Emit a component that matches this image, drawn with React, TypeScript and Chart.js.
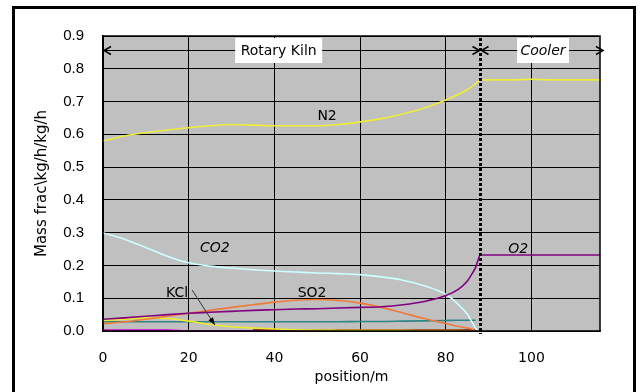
import { useEffect, useRef } from "react";
import { Chart, registerables } from "chart.js";

Chart.register(...registerables);

// positions along the kiln / cooler (m)
const positions = [0, 5, 10, 15, 20, 25, 30, 35, 40, 45, 50, 55, 60, 65, 70, 75, 80, 83, 85, 86, 87, 87.5, 88, 90, 95, 100, 105, 110, 116];

const N2 = [0.58, 0.595, 0.605, 0.613, 0.62, 0.626, 0.63, 0.628, 0.626, 0.626, 0.626, 0.63, 0.638, 0.648, 0.662, 0.68, 0.705, 0.722, 0.736, 0.745, 0.755, 0.76, 0.766, 0.766, 0.766, 0.768, 0.766, 0.766, 0.766];
const CO2 = [0.3, 0.28, 0.255, 0.228, 0.208, 0.198, 0.192, 0.187, 0.183, 0.18, 0.177, 0.175, 0.172, 0.165, 0.155, 0.138, 0.112, 0.08, 0.052, 0.03, 0.008, 0, 0, 0, 0, 0, 0, 0, 0];
const O2 = [0.036, 0.04, 0.045, 0.05, 0.054, 0.057, 0.06, 0.063, 0.065, 0.067, 0.068, 0.07, 0.072, 0.074, 0.08, 0.09, 0.108, 0.128, 0.152, 0.172, 0.195, 0.215, 0.232, 0.232, 0.232, 0.232, 0.232, 0.232, 0.232];
const SO2 = [0.022, 0.028, 0.036, 0.045, 0.054, 0.063, 0.072, 0.08, 0.088, 0.094, 0.096, 0.093, 0.085, 0.072, 0.055, 0.038, 0.023, 0.014, 0.009, 0.006, 0.002, 0, null, null, null, null, null, null, null];
const H2O = [0.028, 0.028, 0.028, 0.028, 0.028, 0.028, 0.028, 0.028, 0.028, 0.028, 0.028, 0.028, 0.029, 0.029, 0.03, 0.031, 0.032, 0.033, 0.033, 0.033, 0.033, null, null, null, null, null, null, null, null];
const KCl = [0.032, 0.036, 0.04, 0.038, 0.03, 0.02, 0.013, 0.009, 0.006, 0.004, 0.003, 0.0025, 0.002, 0.002, 0.002, 0.0015, 0.001, 0.001, 0.0005, 0, 0, 0, null, null, null, null, null, null, null];
const Other1 = [0.002, 0.002, 0.002, 0.002, 0, 0, 0, 0, 0, 0, 0, 0, 0, 0, 0, 0, 0, 0, 0, 0, 0, null, null, null, null, null, null, null, null];
const Other2 = [null, null, null, null, null, null, null, 0.002, 0.002, 0.002, 0.002, 0.002, 0.002, 0.002, 0.002, 0.002, 0.002, 0.002, 0.002, 0.002, 0.002, null, null, null, null, null, null, null, null];

const xTickValues = [0, 20, 40, 60, 80, 100];
const kilnEnd = 88;
const xMax = 116;

export default function App() {
  const ref = useRef<HTMLCanvasElement>(null);

  useEffect(() => {
    if (!ref.current) return;
    const mk = (vals: (number | null)[]) => positions.map((x, i) => ({ x, y: vals[i] }));
    const ds = (label: string, vals: (number | null)[], color: string, width = 1.6) => ({
      label,
      data: mk(vals),
      borderColor: color,
      backgroundColor: color,
      borderWidth: width,
      pointRadius: 0,
      fill: false,
      cubicInterpolationMode: "monotone" as const,
      spanGaps: false,
    });

    const deco = {
      id: "deco",
      beforeDraw(chart: any) {
        const { ctx, chartArea: a } = chart;
        ctx.save();
        ctx.fillStyle = "#ffffff";
        ctx.fillRect(0, 0, chart.width, chart.height);
        ctx.fillStyle = "#c0c0c0";
        ctx.fillRect(a.left, a.top, a.right - a.left, a.bottom - a.top);
        ctx.strokeStyle = "#000";
        ctx.lineWidth = 3;
        ctx.strokeRect(13.5, 7.5, 621, 400);
        ctx.restore();
      },
      afterDatasetsDraw(chart: any) {
        const { ctx, chartArea: a, scales } = chart;
        const X = (v: number) => scales.x.getPixelForValue(v);
        const Y = (v: number) => scales.y.getPixelForValue(v);
        ctx.save();
        // plot border
        ctx.strokeStyle = "#000";
        ctx.lineWidth = 1.5;
        ctx.strokeRect(a.left, a.top, a.right - a.left, a.bottom - a.top);

        // dotted divider
        const xd = Math.round(X(kilnEnd)) + 0.5;
        ctx.setLineDash([3, 2]);
        ctx.lineWidth = 3;
        ctx.beginPath();
        ctx.moveTo(xd, a.top + 2);
        ctx.lineTo(xd, a.bottom + 3);
        ctx.stroke();
        ctx.setLineDash([]);

        // arrows
        const ya = Math.round(Y(0.856)) + 0.5;
        ctx.lineWidth = 1;
        const head = (x: number, dir: number) => {
          ctx.beginPath();
          ctx.moveTo(x - dir * 7, ya - 4);
          ctx.lineTo(x, ya);
          ctx.lineTo(x - dir * 7, ya + 4);
          ctx.stroke();
        };
        ctx.beginPath();
        ctx.moveTo(a.left, ya);
        ctx.lineTo(xd, ya);
        ctx.moveTo(xd, ya);
        ctx.lineTo(a.right + 3, ya);
        ctx.stroke();
        ctx.lineWidth = 1.5;
        head(a.left + 1, -1);
        head(xd - 1, 1);
        head(xd + 1, -1);
        head(a.right + 3, 1);

        // text boxes
        ctx.textBaseline = "middle";
        ctx.textAlign = "center";
        const box = (text: string, cx: number, w: number, italic: boolean) => {
          ctx.fillStyle = "#fff";
          ctx.fillRect(cx - w / 2, ya - 12.5, w, 25);
          ctx.fillStyle = "#000";
          ctx.font = (italic ? "italic " : "") + "14px 'DejaVu Sans'";
          ctx.fillText(text, cx, ya + 1);
        };
        box("Rotary Kiln", X(41), 87, false);
        box("Cooler", X(102.7), 52, true);

        // species labels
        const lab = (t: string, x: number, y: number, italic = false) => {
          ctx.fillStyle = "#000";
          ctx.font = (italic ? "italic " : "") + "14px 'DejaVu Sans'";
          ctx.fillText(t, X(x), Y(y));
        };
        lab("N2", 52.3, 0.656);
        lab("CO2", 26.1, 0.253, true);
        lab("KCl", 17.3, 0.116);
        lab("SO2", 48.8, 0.116);
        lab("O2", 96.9, 0.25, true);

        // KCl pointer arrow
        const x1 = X(20.8), y1 = Y(0.125), x2 = X(26.1), y2 = Y(0.018);
        ctx.strokeStyle = "#333";
        ctx.lineWidth = 1;
        ctx.beginPath();
        ctx.moveTo(x1, y1);
        ctx.lineTo(x2, y2);
        ctx.stroke();
        const ang = Math.atan2(y2 - y1, x2 - x1);
        ctx.fillStyle = "#000";
        ctx.beginPath();
        ctx.moveTo(x2, y2);
        ctx.lineTo(x2 - 8 * Math.cos(ang - 0.35), y2 - 8 * Math.sin(ang - 0.35));
        ctx.lineTo(x2 - 8 * Math.cos(ang + 0.35), y2 - 8 * Math.sin(ang + 0.35));
        ctx.closePath();
        ctx.fill();
        ctx.restore();
      },
    };

    const chart = new Chart(ref.current, {
      type: "line",
      data: {
        datasets: [
          ds("N2", N2, "#eded3a"),
          ds("O2", O2, "#800080"),
          ds("CO2", CO2, "#ccffff"),
          ds("SO2", SO2, "#f07a3a"),
          ds("KCl", KCl, "#eded2a"),
          ds("H2O", H2O, "#2f8585"),
          ds("Other1", Other1, "#d000d0", 2),
          ds("Other2", Other2, "#800000", 2),
        ],
      },
      options: {
        animation: false,
        responsive: false,
        layout: { padding: { left: 0, top: 36, right: 41, bottom: 0 } },
        plugins: { legend: { display: false }, tooltip: { enabled: false } },
        scales: {
          x: {
            type: "linear",
            min: 0,
            max: xMax,
            afterBuildTicks: (s: any) => {
              s.ticks = xTickValues.map((v) => ({ value: v }));
            },
            afterFit: (s: any) => {
              s.height = 61;
            },
            grid: { color: "#000", lineWidth: 1, drawTicks: false },
            border: { color: "#000", width: 1.5 },
            ticks: { color: "#000", padding: 19, font: { family: "'DejaVu Sans'", size: 14 } },
            title: {
              display: true,
              text: "position/m",
              color: "#000",
              font: { family: "'DejaVu Sans'", size: 14 },
              padding: { top: 0, bottom: 6 },
            },
          },
          y: {
            type: "linear",
            min: 0,
            max: 0.9,
            afterFit: (s: any) => {
              s.width = 103;
            },
            grid: { color: "#000", lineWidth: 1, drawTicks: false },
            border: { color: "#000", width: 1.5 },
            ticks: {
              stepSize: 0.1,
              color: "#000",
              padding: 19,
              font: { family: "'Liberation Sans'", size: 15 },
              callback: (v: any) => Number(v).toFixed(1),
            },
            title: {
              display: true,
              text: "Mass frac\\kg/h/kg/h",
              color: "#000",
              font: { family: "'DejaVu Sans'", size: 15 },
              padding: { top: 33, bottom: 0 },
            },
          },
        },
      },
      plugins: [deco],
    });
    return () => chart.destroy();
  }, []);

  return (
    <div style={{ position: "absolute", left: 0, top: 0, width: 641, height: 392 }}>
      <canvas ref={ref} width={641} height={392} style={{ display: "block", width: 641, height: 392 }} />
    </div>
  );
}
